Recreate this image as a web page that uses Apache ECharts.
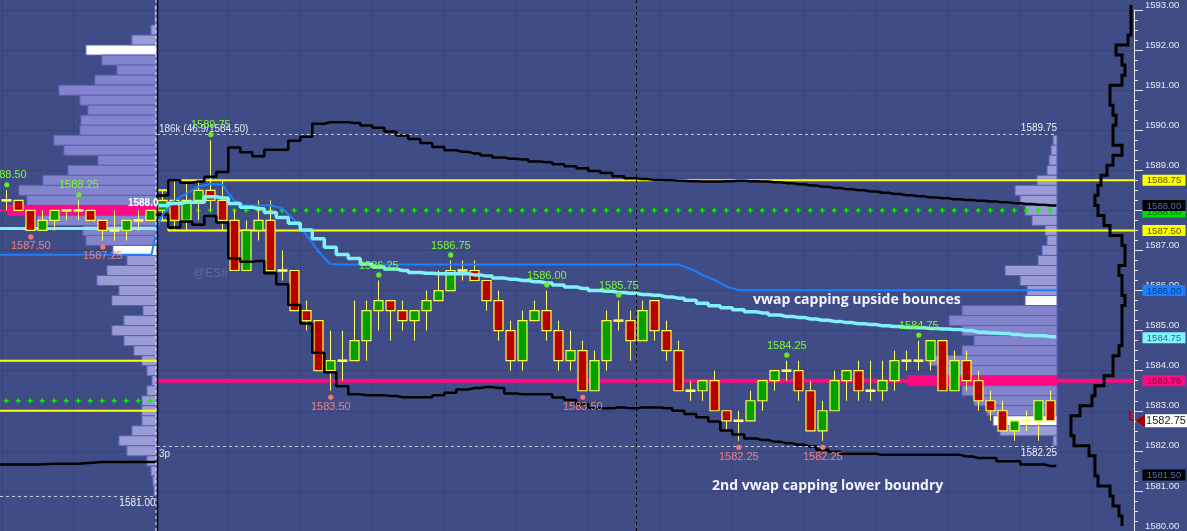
<!DOCTYPE html>
<html><head><meta charset="utf-8">
<script src="https://cdn.jsdelivr.net/npm/echarts@6.0.0/dist/echarts.min.js"></script>
<style>html,body{margin:0;padding:0;background:#3f4c86;}#c{width:1187px;height:531px;}</style>
</head><body><div id="c"></div><script>
// ---------------- DATA ----------------
// candle index 0..12 = previous session, 13..87 = current session
const candleOpen  = [1588.25,1588.25,1588.0,1587.5,1587.75,1588.0,1588.0,1588.0,1587.75,1587.5,1587.5,1587.75,1587.75,
 1588.0,1588.25,1587.75,1588.25,1588.5,1588.25,1587.75,1586.5,1587.5,1587.75,1586.5,1586.5,1585.5,1585.25,1584.0,1584.25,
 1584.25,1584.75,1585.5,1585.75,1585.5,1585.25,1585.5,1585.75,1586.0,1586.5,1586.5,1586.25,1585.75,1585.0,1584.25,1585.25,
 1585.5,1585.0,1584.25,1584.5,1583.5,1584.25,1585.25,1585.25,1584.75,1585.75,1585.0,1584.5,1583.5,1583.5,1583.75,1583.0,
 1582.75,1582.75,1583.25,1583.75,1584.0,1584.0,1583.5,1582.5,1583.0,1583.75,1584.0,1583.5,1583.5,1583.75,1584.25,1584.25,
 1584.25,1584.75,1583.5,1584.25,1583.75,1583.25,1583.0,1582.5,1582.75,1582.75,1583.25];
const candleHigh  = [1588.5,1588.25,1588.0,1588.0,1588.0,1588.0,1588.25,1588.0,1587.75,1588.0,1587.75,1588.0,1588.0,
 1588.5,1588.75,1588.75,1588.75,1589.75,1588.75,1588.0,1587.75,1588.25,1588.25,1587.0,1586.5,1585.75,1585.25,1585.0,1585.0,
 1585.75,1585.75,1586.25,1585.75,1585.75,1585.5,1586.0,1586.5,1586.75,1586.75,1586.75,1586.25,1586.0,1585.25,1585.5,1585.75,
 1586.0,1585.25,1585.0,1584.75,1584.5,1585.5,1585.75,1585.5,1585.75,1585.75,1585.25,1584.75,1583.75,1583.75,1584.0,1583.0,
 1583.0,1583.5,1583.75,1584.0,1584.25,1584.25,1583.75,1583.25,1584.0,1584.0,1584.25,1584.25,1584.25,1584.5,1584.5,1584.75,
 1584.75,1584.75,1584.5,1584.5,1584.0,1583.5,1583.25,1582.75,1583.0,1583.25,1583.5];
const candleLow   = [1588.0,1588.0,1587.5,1587.5,1587.5,1587.75,1587.75,1587.75,1587.25,1587.25,1587.25,1587.5,1587.75,
 1587.75,1587.5,1587.5,1587.75,1588.0,1587.5,1586.5,1586.5,1587.25,1586.5,1586.25,1585.5,1585.0,1584.0,1583.5,1583.75,
 1584.25,1584.25,1585.0,1584.75,1585.0,1584.75,1585.0,1585.75,1586.0,1586.25,1586.25,1585.5,1584.75,1584.0,1584.0,1585.25,
 1584.75,1584.0,1584.0,1583.5,1583.5,1584.0,1585.0,1584.25,1584.75,1584.75,1584.25,1583.5,1583.25,1583.25,1583.0,1582.5,
 1582.25,1582.75,1583.0,1583.5,1583.75,1583.25,1582.5,1582.25,1583.0,1583.25,1583.25,1583.25,1583.25,1583.5,1584.0,1584.0,
 1584.0,1583.5,1583.5,1583.5,1583.0,1582.75,1582.5,1582.25,1582.5,1582.25,1582.75];
const candleClose = [1588.25,1588.0,1587.5,1587.75,1588.0,1588.0,1588.0,1587.75,1587.5,1587.5,1587.75,1587.75,1588.0,
 1588.25,1587.75,1588.25,1588.5,1588.25,1587.75,1586.5,1587.5,1587.75,1586.5,1586.5,1585.5,1585.25,1584.0,1584.25,1584.25,
 1584.75,1585.5,1585.75,1585.5,1585.25,1585.5,1585.75,1586.0,1586.5,1586.5,1586.25,1585.75,1585.0,1584.25,1585.25,1585.5,
 1585.0,1584.25,1584.5,1583.5,1584.25,1585.25,1585.25,1584.75,1585.5,1585.0,1584.5,1583.5,1583.5,1583.75,1583.0,1582.75,
 1582.75,1583.25,1583.75,1584.0,1584.0,1583.5,1582.5,1583.0,1583.75,1584.0,1583.5,1583.5,1583.75,1584.25,1584.25,1584.25,
 1584.75,1583.5,1584.25,1583.75,1583.25,1583.0,1582.5,1582.75,1582.75,1583.25,1582.75];
const sessionFirstBar = 13;
// per-bar indicator values, bars 13..87
const vwapValues = [1588.12,1588.17,1588.20,1588.20,1588.34,1588.31,1588.17,1588.08,1588.04,1587.95,1587.82,1587.68,1587.51,
 1587.29,1587.08,1586.90,1586.80,1586.66,1586.59,1586.54,1586.50,1586.45,1586.43,1586.42,1586.42,1586.42,1586.39,1586.36,
 1586.31,1586.28,1586.25,1586.22,1586.19,1586.14,1586.09,1586.05,1586.00,1585.98,1585.95,1585.93,1585.90,1585.88,1585.84,
 1585.81,1585.76,1585.68,1585.62,1585.57,1585.52,1585.47,1585.44,1585.39,1585.35,1585.33,1585.29,1585.26,1585.23,1585.20,
 1585.17,1585.15,1585.12,1585.10,1585.08,1585.07,1585.05,1585.04,1585.03,1585.00,1584.96,1584.94,1584.93,1584.90,1584.88,
 1584.87,1584.85];
const upperBandValues = [1588.37,1588.75,1588.69,1588.72,1588.84,1588.96,1589.57,1589.45,1589.35,1589.51,1589.51,1589.74,1589.84,
 1590.16,1590.20,1590.20,1590.18,1590.12,1590.06,1589.97,1589.87,1589.78,1589.68,1589.58,1589.50,1589.46,1589.42,1589.37,
 1589.32,1589.29,1589.27,1589.22,1589.20,1589.15,1589.10,1589.05,1588.98,1588.93,1588.85,1588.80,1588.78,1588.76,1588.75,
 1588.74,1588.73,1588.72,1588.72,1588.73,1588.74,1588.73,1588.72,1588.70,1588.68,1588.65,1588.62,1588.59,1588.56,1588.53,
 1588.50,1588.47,1588.44,1588.41,1588.38,1588.35,1588.32,1588.30,1588.28,1588.26,1588.24,1588.22,1588.20,1588.18,1588.16,
 1588.14,1588.12];
const lowerBandValues = [1587.90,1587.57,1587.72,1587.64,1587.86,1587.70,1586.80,1586.72,1586.74,1586.43,1586.16,1585.64,1585.18,
 1584.45,1583.96,1583.61,1583.41,1583.39,1583.39,1583.37,1583.34,1583.34,1583.34,1583.39,1583.45,1583.53,1583.57,1583.59,
 1583.57,1583.43,1583.41,1583.41,1583.41,1583.33,1583.27,1583.17,1583.06,1583.06,1583.08,1583.06,1583.08,1583.08,1583.06,
 1583.00,1582.92,1582.84,1582.73,1582.51,1582.41,1582.31,1582.27,1582.23,1582.19,1582.15,1582.11,1582.03,1581.98,1581.93,
 1581.93,1581.93,1581.90,1581.90,1581.90,1581.90,1581.90,1581.90,1581.90,1581.86,1581.82,1581.82,1581.74,1581.74,1581.66,
 1581.66,1581.62];
const blueValues = [1587.88,1588.24,1588.42,1588.59,1588.66,1588.64,1588.24,1588.12,1588.12,1588.12,1588.05,1587.76,1587.39,
 1586.98,1586.66,1586.65,1586.65,1586.65,1586.65,1586.65,1586.65,1586.65,1586.65,1586.65,1586.65,1586.65,1586.65,1586.65,
 1586.65,1586.65,1586.65,1586.65,1586.65,1586.65,1586.65,1586.65,1586.65,1586.65,1586.65,1586.65,1586.65,1586.65,1586.65,
 1586.65,1586.54,1586.39,1586.27,1586.10,1586.01,1586.01,1586.01,1586.01,1586.01,1586.01,1586.01,1586.01,1586.01,1586.01,
 1586.01,1586.01,1586.01,1586.01,1586.01,1586.01,1586.01,1586.01,1586.01,1586.01,1586.01,1586.01,1586.01,1586.01,1586.01,
 1586.01,1586.01];
const ibHighSteps = [1588.50, 1588.75];
const ibLowSteps  = [1587.75, 1587.50];
const highMarkBars = [0,6,17,31,37,45,51,65,76];
const lowMarkBars  = [2,8,27,48,61,68];
// previous-session levels
const prevYellowLevels = [1584.25, 1583.00];
const prevGreenLevel = 1583.25;
const prevBlackSteps = [1581.66, 1581.68, 1581.72];
const prevVwapLevel = 1587.55;
const prevBlueLevel = 1586.89;
const prevPocLevel = 1588.00;
const prevLastPrice = "1588.0";
const prevLow = 1581.00;
// current-session levels
const pocLevel = 1583.75;
const greenLevel = 1588.00;
const sessionHigh = 1589.75, sessionLow = 1582.25;
const highInfoText = "186k (46.9/1584.50)";
const lowInfoText = "3p";
// volume profiles
const prevProfilePrices = [1593.0,1592.75,1592.5,1592.25,1592.0,1591.75,1591.5,1591.25,1591.0,1590.75,1590.5,1590.25,1590.0,
 1589.75,1589.5,1589.25,1589.0,1588.75,1588.5,1588.25,1588.0,1587.75,1587.5,1587.25,1587.0,1586.75,1586.5,1586.25,1586.0,
 1585.75,1585.5,1585.25,1585.0,1584.75,1584.5,1584.25,1584.0,1583.75,1583.5,1583.25,1583.0,1582.75,1582.5,1582.25,1582.0,
 1581.75,1581.5,1581.25,1581.0];
const prevProfileVol = [2,2,6,25,71,55,40,62,98,77,69,76,77,103,93,59,89,114,138,130,149,120,74,71,44,30,50,60,38,45,14,33,45,
 33,23,15,10,5,10,15,15,15,25,38,30,10,6,4,3];
const prevVAH = 1592.0, prevVAL = 1587.0, prevPOC = 1588.0;
const curProfilePrices = [1589.75,1589.5,1589.25,1589.0,1588.75,1588.5,1588.25,1588.0,1587.75,1587.5,1587.25,1587.0,1586.75,
 1586.5,1586.25,1586.0,1585.75,1585.5,1585.25,1585.0,1584.75,1584.5,1584.25,1584.0,1583.75,1583.5,1583.25,1583.0,1582.75,
 1582.5,1582.25];
const curProfileVol = [4,6,8,10,20,42,37,32,25,12,10,15,19,52,37,30,32,95,108,95,83,95,128,118,149,95,83,70,64,57,4];
const curVAH = 1585.75, curVAL = 1582.75, curPOC = 1583.75;
// TPO outline on the far right
const tpoPrices = [1593.0,1592.75,1592.5,1592.25,1592.0,1591.75,1591.5,1591.25,1591.0,1590.75,1590.5,1590.25,1590.0,1589.75,
 1589.5,1589.25,1589.0,1588.75,1588.5,1588.25,1588.0,1587.75,1587.5,1587.25,1587.0,1586.75,1586.5,1586.25,1586.0,1585.75,
 1585.5,1585.25,1585.0,1584.75,1584.5,1584.25,1584.0,1583.75,1583.5,1583.25,1583.0,1582.75,1582.5,1582.25,1582.0,1581.75,
 1581.5,1581.25,1581.0,1580.75,1580.5,1580.25];
const tpoCounts = [1,1,1,2,6,4,3,4,8,8,7,6,7,7,4,7,9,11,12,13,12,10,8,4,3,3,5,4,4,3,4,4,4,4,5,7,7,10,13,14,18,21,21,20,15,13,
 13,12,8,7,5,4];
// right axis tags
const tagValues = [1588.75, 1588.00, 1588.00, 1587.50, 1586.00, 1584.75, 1583.75, 1581.50];
const lastPrice = 1582.75;
const annotations = ["vwap capping upside bounces", "2nd vwap capping lower boundry"];

// ---------------- STYLE ----------------
const BG = '#3f4c86', GRID = '#36447b';
const tagStyles = [
  {bg:'#ffff00', fg:'#555500', dy:0}, {bg:'#00e000', fg:'#106010', dy:1.5}, {bg:'#000000', fg:'#4a6cb8', dy:-5},
  {bg:'#ffff00', fg:'#555500', dy:0}, {bg:'#1a80ff', fg:'#0b3a80', dy:0}, {bg:'#80f4ff', fg:'#2d6a86', dy:-3},
  {bg:'#ff0a82', fg:'#7a0a3c', dy:0}, {bg:'#000000', fg:'#4a6cb8', dy:4}];
const vGridBars = [-0.38, 5.58, 18.5, 24.5, 30.5, 36.5, 42.5, 48.5, 54.5, 60.5, 66.5, 72.5, 78.5, 84.5, 90.5];
const dividerBar = 12.55, crosshairBar = 52.5, profileRightBar = 87.56, lastBarEdge = 87.5, rightEdgeBar = 93.975;

// ---------------- BUILD ----------------
const chart = echarts.init(document.getElementById('c'));
const mainBars = vwapValues.map((_, i) => sessionFirstBar + i);
function stepSeriesData(vals){
  const d = vals.map((v, i) => [sessionFirstBar + i, v]);
  d.unshift([sessionFirstBar - 0.5, vals[0]]);
  d.push([lastBarEdge, vals[vals.length - 1]]);
  return d;
}
const candleData = candleOpen.map((o, i) => [i, o, candleClose[i], candleLow[i], candleHigh[i]]);

function renderCandle(params, api){
  const k = api.value(0), o = api.value(1), c = api.value(2), l = api.value(3), h = api.value(4);
  const pO = api.coord([k, o]), pC = api.coord([k, c]), pL = api.coord([k, l]), pH = api.coord([k, h]);
  const x = Math.round(pO[0]) + 0.5;
  const ch = [{type:'line', shape:{x1:x, y1:pH[1], x2:x, y2:pL[1]}, style:{stroke:'#ffff66', lineWidth:1}}];
  if (o === c) {
    ch.push({type:'line', shape:{x1:x-5, y1:pO[1], x2:x+5, y2:pO[1]}, style:{stroke:'#ffff66', lineWidth:2.5}});
  } else {
    const top = Math.min(pO[1], pC[1]), bot = Math.max(pO[1], pC[1]);
    ch.push({type:'rect', shape:{x:x-4.5, y:top, width:9, height:bot-top},
      style:{fill: c > o ? '#00a000' : '#b80000', stroke:'#ffff50', lineWidth:1.2}});
  }
  return {type:'group', children:ch};
}

function profileRenderer(prices, vols, anchorBar, vah, val, poc){
  return function(params, api){
    const ch = [];
    const xr = api.coord([anchorBar, 0])[0];
    prices.forEach((p, i) => {
      const y1 = api.coord([anchorBar, p + 0.125])[1], y2 = api.coord([anchorBar, p - 0.125])[1];
      let fill = (p <= vah && p >= val) ? '#8385cc' : '#9a9cd6';
      if (p === vah || p === val) fill = '#ffffff';
      if (p === poc) fill = '#ff0a82';
      ch.push({type:'rect', shape:{x:xr - vols[i], y:y1, width:vols[i], height:y2 - y1},
        style:{fill:fill, stroke: p === poc ? '#ff0a82' : '#5b5ec0', lineWidth:1}});
    });
    return {type:'group', children:ch};
  };
}

function hline(bar1, bar2, v, color, w, dash){
  return {type:'line', silent:true, symbol:'none', z:3, animation:false,
    data:[[bar1, v],[bar2, v]], lineStyle:{color:color, width:w, type: dash || 'solid'}};
}

const series = [
  {type:'custom', z:1, silent:true, data:[[0,0]], renderItem:(p, api) => ({type:'group', children: vGridBars.map(b => {
      const x = Math.round(api.coord([b, 1590])[0]) + 0.5;
      return {type:'line', shape:{x1:x, y1:0, x2:x, y2:531}, style:{stroke:GRID, lineWidth:1}};
    })})},
  {type:'custom', z:2, silent:true, data:[[0,0]], renderItem: profileRenderer(prevProfilePrices, prevProfileVol, dividerBar, prevVAH, prevVAL, prevPOC)},
  {type:'custom', z:2, silent:true, data:[[0,0]], renderItem: profileRenderer(curProfilePrices, curProfileVol, profileRightBar, curVAH, curVAL, curPOC)},
  hline(dividerBar, rightEdgeBar, pocLevel, '#ff0a82', 4),
  hline(-0.525, dividerBar, prevPocLevel, '#ff0a82', 2),
  {type:'line', z:3, silent:true, symbol:'none', data:[[dividerBar, ibHighSteps[0]],[sessionFirstBar+0.5, ibHighSteps[0]],[sessionFirstBar+0.5, ibHighSteps[1]],[rightEdgeBar, ibHighSteps[1]]], lineStyle:{color:'#ffff00', width:2}},
  {type:'line', z:3, silent:true, symbol:'none', data:[[dividerBar, ibLowSteps[0]],[sessionFirstBar+0.5, ibLowSteps[0]],[sessionFirstBar+0.5, ibLowSteps[1]],[rightEdgeBar, ibLowSteps[1]]], lineStyle:{color:'#ffff00', width:2}},
  hline(-0.525, dividerBar, prevYellowLevels[0], '#ffff00', 2),
  hline(-0.525, dividerBar, prevYellowLevels[1], '#ffff00', 2),
  {type:'custom', z:3, silent:true, data:[[0,0]], renderItem:(p, api) => {
      const ch = [];
      const add = (b, v) => { const c = api.coord([b, v]);
        ch.push({type:'line', shape:{x1:c[0]-2.5, y1:c[1], x2:c[0]+2.5, y2:c[1]}, style:{stroke:'#22e022', lineWidth:1.4}});
        ch.push({type:'line', shape:{x1:c[0], y1:c[1]-2.5, x2:c[0], y2:c[1]+2.5}, style:{stroke:'#22e022', lineWidth:1.4}}); };
      mainBars.slice(1).forEach(b => add(b, greenLevel));
      candleOpen.slice(0, sessionFirstBar).forEach((_, b) => add(b, prevGreenLevel));
      return {type:'group', children:ch};
    }},
  {type:'line', z:3, silent:true, symbol:'none', step:'middle', data:[[-0.525, prevBlackSteps[0]],[1.5, prevBlackSteps[0]],[4, prevBlackSteps[1]],[8, prevBlackSteps[2]],[dividerBar, prevBlackSteps[2]]], lineStyle:{color:'#000', width:2.5}},
  {type:'custom', z:5, silent:true, data:candleData, renderItem:renderCandle},
  {type:'line', z:6, silent:true, symbol:'none', step:'middle', data:stepSeriesData(upperBandValues), lineStyle:{color:'#000', width:2.5}},
  {type:'line', z:6, silent:true, symbol:'none', step:'middle', data:stepSeriesData(lowerBandValues), lineStyle:{color:'#000', width:2.5}},
  {type:'line', z:6, silent:true, symbol:'none', data:[[-0.525, prevBlueLevel],[12.1, prevBlueLevel],[dividerBar, prevVwapLevel]].concat(blueValues.map((v,i)=>[sessionFirstBar+i, v])).concat([[profileRightBar, blueValues[blueValues.length-1]]]), lineStyle:{color:'#1a80ff', width:2}},
  hline(-0.525, dividerBar, prevVwapLevel, '#80f0fc', 3),
  {type:'line', z:7, silent:true, symbol:'none', step:'middle', data:stepSeriesData(vwapValues), lineStyle:{color:'#80f0fc', width:3.5}},
  {type:'custom', z:8, silent:true, data:[[0,0]], renderItem:(p, api) => {
      const ch = [];
      const xd = Math.round(api.coord([dividerBar, 1590])[0]) + 0.5;
      const xc = Math.round(api.coord([crosshairBar, 1590])[0]) + 0.5;
      const xs = api.coord([dividerBar, 0])[0], xe = api.coord([profileRightBar, 0])[0];
      ch.push({type:'line', shape:{x1:xd, y1:0, x2:xd, y2:531}, style:{stroke:'#000', lineWidth:1.5}});
      ch.push({type:'line', shape:{x1:xd-1.5, y1:0, x2:xd-1.5, y2:531}, style:{stroke:'#e8e8f0', lineWidth:1, lineDash:[3,3]}});
      ch.push({type:'line', shape:{x1:xc, y1:0, x2:xc, y2:531}, style:{stroke:'#000', lineWidth:1, lineDash:[3,3]}});
      const yh = Math.round(api.coord([0, sessionHigh])[1] - 6) + 0.5;
      const yl = Math.round(api.coord([0, sessionLow])[1] + 5) + 0.5;
      const ypl = Math.round(api.coord([0, prevLow])[1] + 5) + 0.5;
      const dash = {stroke:'#c8cce0', lineWidth:1, lineDash:[3,3]};
      ch.push({type:'line', shape:{x1:xs, y1:yh, x2:xe, y2:yh}, style:dash});
      ch.push({type:'line', shape:{x1:xs, y1:yl, x2:xe, y2:yl}, style:dash});
      ch.push({type:'line', shape:{x1:0, y1:ypl, x2:xd-2, y2:ypl}, style:dash});
      const f = '10px "Liberation Sans"';
      ch.push({type:'text', style:{text:highInfoText, x:xs+2, y:yh-5, align:'left', verticalAlign:'middle', fill:'#e8e8f4', font:f}});
      ch.push({type:'text', style:{text:sessionHigh.toFixed(2), x:xe, y:yh-6, align:'right', verticalAlign:'middle', fill:'#f0f0f8', font:f}});
      ch.push({type:'text', style:{text:lowInfoText, x:xs+2, y:yl+8, align:'left', verticalAlign:'middle', fill:'#e8e8f4', font:f}});
      ch.push({type:'text', style:{text:sessionLow.toFixed(2), x:xe, y:yl+7, align:'right', verticalAlign:'middle', fill:'#f0f0f8', font:f}});
      ch.push({type:'text', style:{text:prevLow.toFixed(2), x:xd-2, y:ypl+7, align:'right', verticalAlign:'middle', fill:'#f0f0f8', font:f}});
      const yLast = api.coord([0, prevPocLevel])[1] - 7;
      ch.push({type:'text', style:{text:prevLastPrice, x:xd+1, y:yLast, align:'right', verticalAlign:'middle', fill:'#ffffff', font:'bold 10px "Liberation Sans"'}});
      highMarkBars.forEach(b => {
        const c = api.coord([b, candleHigh[b]]);
        ch.push({type:'circle', shape:{cx:c[0]+0.5, cy:c[1]-5.6, r:2.6}, style:{fill:'#66ee22'}});
        ch.push({type:'text', style:{text:candleHigh[b].toFixed(2), x:c[0]+0.5, y:c[1]-15, align:'center', verticalAlign:'middle', fill:'#7cfc30', font:'11px "Liberation Sans"'}});
      });
      lowMarkBars.forEach(b => {
        const c = api.coord([b, candleLow[b]]);
        ch.push({type:'circle', shape:{cx:c[0]+0.5, cy:c[1]+6.5, r:2.6}, style:{fill:'#f07878'}});
        ch.push({type:'text', style:{text:candleLow[b].toFixed(2), x:c[0]+0.5, y:c[1]+16, align:'center', verticalAlign:'middle', fill:'#f08080', font:'11px "Liberation Sans"'}});
      });
      return {type:'group', children:ch};
    }},
  {type:'custom', z:8, silent:true, data:[[0,0]], renderItem:(p, api) => {
      const axisX = api.coord([rightEdgeBar, 0])[0];
      const pts = [];
      tpoPrices.forEach((pr, i) => {
        const x = axisX - 3 * tpoCounts[i];
        pts.push([x, api.coord([0, pr + 0.125])[1]]);
        pts.push([x, api.coord([0, pr - 0.125])[1]]);
      });
      return {type:'polyline', shape:{points:pts}, style:{stroke:'#000', lineWidth:3, fill:null}};
    }},
  {type:'custom', z:9, silent:true, data:tagValues.map(v => [0, v]), renderItem:(p, api) => {
      const st = tagStyles[p.dataIndex];
      const v = api.value(1);
      const y = api.coord([0, v])[1] + st.dy;
      const x0 = p.coordSys.x + p.coordSys.width + 8.5;
      return {type:'group', children:[
        {type:'rect', shape:{x:x0, y:y-5.5, width:43, height:11}, style:{fill:st.bg}},
        {type:'text', style:{text:v.toFixed(2), x:x0+21.5, y:y+0.5, align:'center', verticalAlign:'middle', fill:st.fg, font:'9.5px "Liberation Sans"'}}]};
    }},
  {type:'custom', z:10, silent:true, data:[[0, lastPrice]], renderItem:(p, api) => {
      const v = api.value(1);
      const y = api.coord([0, v])[1];
      const xa = p.coordSys.x + p.coordSys.width;
      return {type:'group', children:[
        {type:'polygon', shape:{points:[[xa+1, y],[xa+11, y-6],[xa+11, y+6]]}, style:{fill:'#a00000'}},
        {type:'rect', shape:{x:xa+11, y:y-6.5, width:42, height:13}, style:{fill:'#ffffff'}},
        {type:'text', style:{text:v.toFixed(2), x:xa+32, y:y+0.5, align:'center', verticalAlign:'middle', fill:'#202020', font:'11px "Liberation Sans"'}},
        {type:'polyline', shape:{points:[[xa-4, y-10],[xa-4, y-1],[xa, y-1]]}, style:{stroke:'#b00000', lineWidth:2, fill:null}}]};
    }}
];

const option = {
  animation:false,
  backgroundColor:BG,
  grid:{left:0, right:53, top:5.05, bottom:-7.05, show:false},
  xAxis:{type:'value', min:-0.525, max:rightEdgeBar, show:false},
  yAxis:{type:'value', position:'right', min:1580, max:1593, interval:1,
    axisLine:{show:true, onZero:false, lineStyle:{color:'#e6e8f2', width:1}},
    axisTick:{show:true, length:9, lineStyle:{color:'#e6e8f2'}},
    minorTick:{show:true, splitNumber:4, length:4, lineStyle:{color:'#e6e8f2'}},
    axisLabel:{formatter:v => v.toFixed(2), color:'#e6e8f2', fontFamily:'Liberation Sans', fontSize:9.5, margin:11, verticalAlign:'bottom'},
    splitLine:{show:true, lineStyle:{color:GRID, width:1}}},
  graphic:[
    {type:'text', left:753, top:293, z:100, style:{text:annotations[0], fill:'#f4f4ff', font:'bold 14px "Open Sans"'}},
    {type:'text', left:712, top:479, z:100, style:{text:annotations[1], fill:'#f4f4ff', font:'bold 14px "Open Sans"'}},
    {type:'text', left:193, top:268, z:4, style:{text:'@ES#', fill:'#5b69a2', font:'12px "Liberation Sans"'}}
  ],
  series:series
};
chart.setOption(option);
</script></body></html>
